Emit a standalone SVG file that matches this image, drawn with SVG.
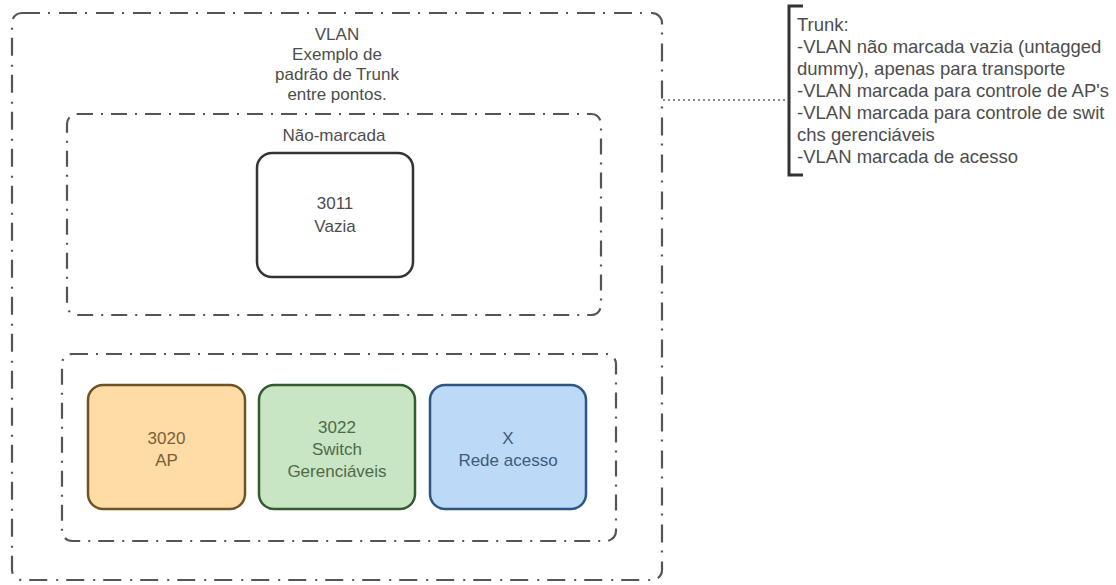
<svg xmlns="http://www.w3.org/2000/svg" width="1116" height="585" viewBox="0 0 1116 585">
<style>
text{font-family:"Liberation Sans",Arial,sans-serif;font-size:17px;fill:#4d4d4d}
.c{text-anchor:middle}
.note{font-size:18.5px}
.outer{fill:none;stroke:#555;stroke-width:2.2;stroke-dasharray:18 8 2 9}
.cont{fill:none;stroke:#555;stroke-width:2.2;stroke-dasharray:16 8 2 8}
.box{stroke-width:2.5}
</style>
<rect width="1116" height="585" fill="#ffffff"/>
<g id="vlan">
<rect class="outer" x="12" y="13" width="650" height="567" rx="10"/>
<text class="c" x="337" y="40">VLAN</text>
<text class="c" x="337" y="60">Exemplo de</text>
<text class="c" x="337" y="80">padrão de Trunk</text>
<text class="c" x="337" y="100">entre pontos.</text>
</g>
<g id="nao-marcada">
<rect class="cont" x="67" y="114" width="534" height="201" rx="10"/>
<text class="c" x="334" y="141">Não-marcada</text>
</g>
<g id="v3011">
<rect class="box" x="257" y="153" width="156" height="124" rx="15" fill="#ffffff" stroke="#333"/>
<text class="c" x="335" y="209">3011</text>
<text class="c" x="335" y="232">Vazia</text>
</g>
<g id="marcadas">
<rect class="cont" x="62" y="354" width="554" height="187" rx="10"/>
</g>
<g id="v3020">
<rect class="box" x="88" y="385" width="157" height="124" rx="15" fill="#ffdba6" stroke="#6e5424"/>
<text class="c" x="166.5" y="444" style="fill:#7a6035">3020</text>
<text class="c" x="166.5" y="466" style="fill:#7a6035">AP</text>
</g>
<g id="v3022">
<rect class="box" x="259" y="385" width="156" height="124" rx="15" fill="#c8e5c4" stroke="#325b2e"/>
<text class="c" x="337" y="433" style="fill:#4d6b49">3022</text>
<text class="c" x="337" y="455" style="fill:#4d6b49">Switch</text>
<text class="c" x="337" y="477" style="fill:#4d6b49">Gerenciáveis</text>
</g>
<g id="vx">
<rect class="box" x="430" y="385" width="156" height="124" rx="15" fill="#bcdaf7" stroke="#2d5584"/>
<text class="c" x="508" y="444" style="fill:#3d5a80">X</text>
<text class="c" x="508" y="466" style="fill:#3d5a80">Rede acesso</text>
</g>
<g id="connectors">
<line x1="663" y1="100" x2="786" y2="100" stroke="#666" stroke-width="1.6" stroke-dasharray="2 3"/>
</g>
<g id="trunk-note">
<path d="M803 6 H789 V175 H803" fill="none" stroke="#333" stroke-width="3"/>
<text class="note" x="797" y="31">Trunk:</text>
<text class="note" x="797" y="53">-VLAN não marcada vazia (untagged</text>
<text class="note" x="797" y="75">dummy), apenas para transporte</text>
<text class="note" x="797" y="97">-VLAN marcada para controle de AP's</text>
<text class="note" x="797" y="119">-VLAN marcada para controle de swit</text>
<text class="note" x="797" y="141">chs gerenciáveis</text>
<text class="note" x="797" y="163">-VLAN marcada de acesso</text>
</g>
</svg>
